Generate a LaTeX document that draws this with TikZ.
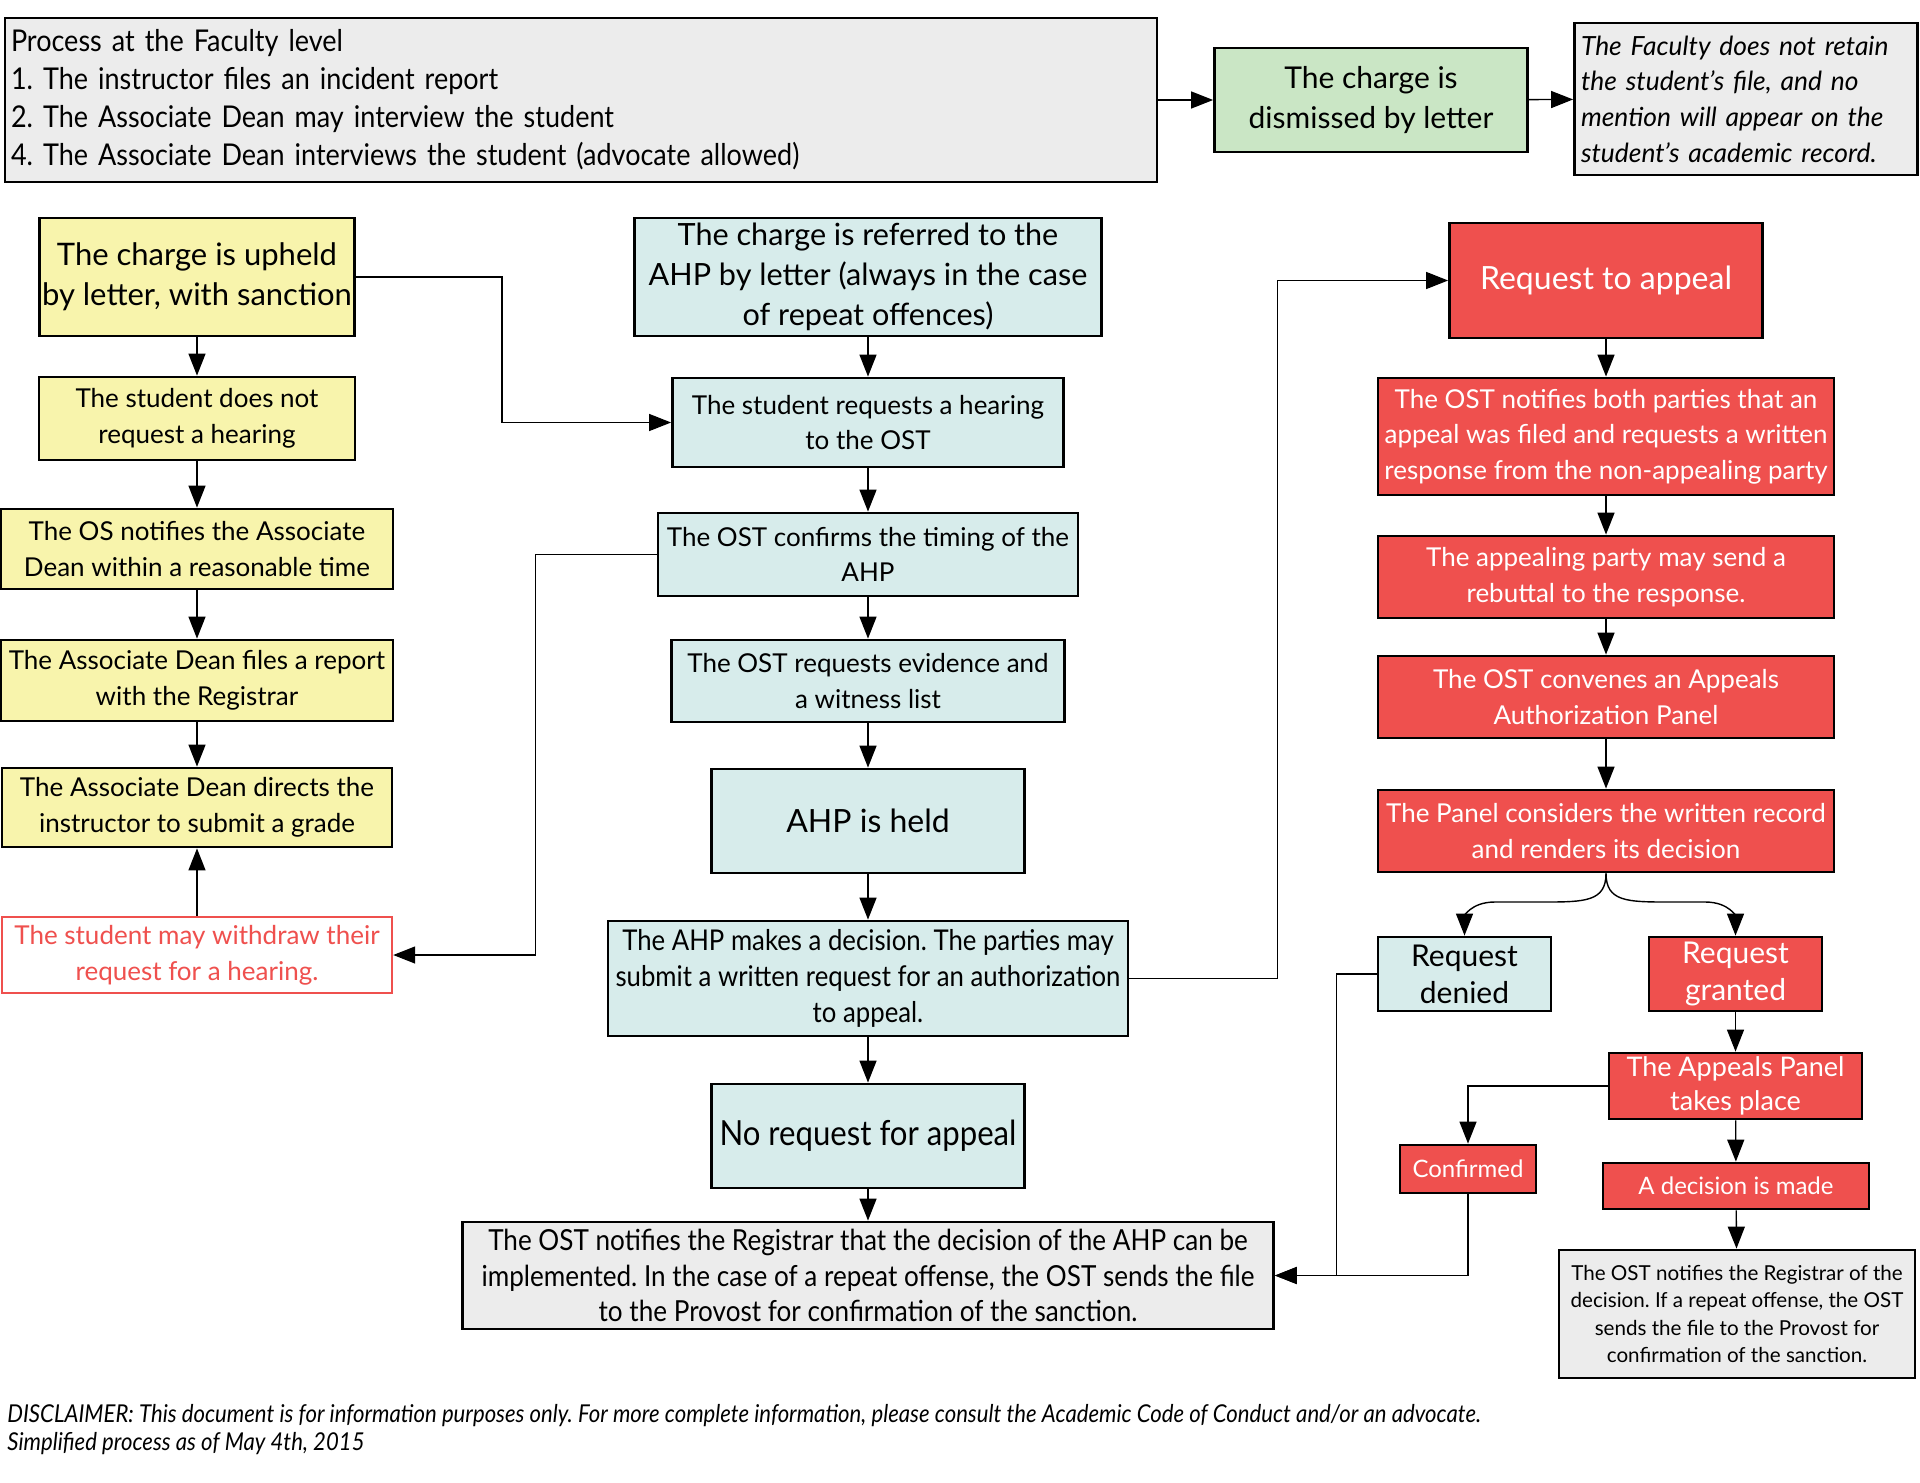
\documentclass[tikz,border=0pt]{standalone}
\usepackage{fontspec}
\setmainfont{Lato}
\newfontfamily\narrowfont[FakeStretch=0.9]{Lato}
\usetikzlibrary{arrows.meta}
\frenchspacing

\definecolor{yel}{HTML}{F8F4AC}
\definecolor{cya}{HTML}{D7ECEB}
\definecolor{redd}{HTML}{EF504E}
\definecolor{grn}{HTML}{CAE6C5}
\definecolor{gry}{HTML}{ECECEC}

\newcommand{\fsz}[2]{\fontsize{#1}{#2}\selectfont}

\tikzset{
  box/.style={draw, line width=1.4pt, align=center, inner sep=1pt},
  ybox/.style={box, fill=yel, font=\fsz{13}{17.8}},
  cbox/.style={box, fill=cya, font=\fsz{13}{17.8}},
  rbox/.style={box, fill=redd, text=white, font=\fsz{13}{17.8}},
  gbox/.style={box, fill=gry},
  wbox/.style={box, draw=redd, line width=1.2pt, fill=white, text=redd, font=\fsz{13}{17.8}},
  arr/.style={-{Triangle[length=11pt,width=8.5pt]}, line width=0.7pt},
}

\begin{document}
\begin{tikzpicture}[x=0.5pt,y=-0.5pt]
\useasboundingbox (0,0) rectangle (1920,1482);
%\draw[help lines] (0,0) grid[step=100] (1920,1482);

% top row
\node[gbox, minimum width=576pt, minimum height=82pt, text width=570pt, inner xsep=3pt, align=left, font=\narrowfont\fsz{15}{19}] (faculty) at (581,100)
  {Process at the Faculty level\\1. The instructor files an incident report\\2. The Associate Dean may interview the student\\4. The Associate Dean interviews the student (advocate allowed)};
\node[box, fill=grn, minimum width=156.5pt, minimum height=52pt, font=\fsz{15}{20}] (dismissed) at (1371,100) {The charge is\\dismissed by letter};
\node[gbox, minimum width=171.5pt, minimum height=76pt, text width=165pt, inner xsep=3pt, align=left, font=\itshape\fsz{13.2}{17.8}] (record) at (1746,99)
  {The Faculty does not retain\\the student's file, and no\\mention will appear on the\\student's academic record.};

% left column
\node[ybox, minimum width=157.5pt, minimum height=59pt, font=\fsz{15.5}{20}] (upheld) at (197,277) {The charge is upheld\\by letter, with sanction};
\node[ybox, minimum width=158pt, minimum height=41.5pt] (nohearing) at (197,418.5) {The student does not\\request a hearing};
\node[ybox, minimum width=196pt, minimum height=40pt] (osnotify) at (197,549) {The OS notifies the Associate\\Dean within a reasonable time};
\node[ybox, minimum width=196pt, minimum height=40.5pt] (adfiles) at (197,680.5) {The Associate Dean files a report\\with the Registrar};
\node[ybox, minimum width=195pt, minimum height=39.5pt] (addirects) at (197,807.5) {The Associate Dean directs the\\instructor to submit a grade};
\node[wbox, minimum width=195pt, minimum height=38pt] (withdraw) at (197,955) {The student may withdraw their\\request for a hearing.};

% middle column
\node[cbox, minimum width=233.5pt, minimum height=59pt, font=\fsz{15.3}{20}] (referred) at (868,277) {The charge is referred to the\\AHP by letter (always in the case\\of repeat offences)};
\node[cbox, minimum width=195.5pt, minimum height=44.5pt] (reqhearing) at (868,422.5) {The student requests a hearing\\to the OST};
\node[cbox, minimum width=210pt, minimum height=41.5pt] (timing) at (868,554.5) {The OST confirms the timing of the\\AHP};
\node[cbox, minimum width=196.5pt, minimum height=41pt] (evidence) at (868,681) {The OST requests evidence and\\a witness list};
\node[cbox, minimum width=156.5pt, minimum height=52pt, font=\fsz{16}{20}] (held) at (868,821) {AHP is held};
\node[cbox, minimum width=260pt, minimum height=57.5pt, font=\narrowfont\fsz{14.3}{17.8}] (ahpdecision) at (868,978.5) {The AHP makes a decision. The parties may\\submit a written request for an authorization\\to appeal.};
\node[cbox, minimum width=156.5pt, minimum height=52pt, font=\narrowfont\fsz{17.3}{20}] (noappeal) at (868,1136) {No request for appeal};
\node[gbox, minimum width=405.5pt, minimum height=53.5pt, font=\narrowfont\fsz{14.5}{17.8}] (registrar) at (868,1275.5) {The OST notifies the Registrar that the decision of the AHP can be\\implemented. In the case of a repeat offense, the OST sends the file\\to the Provost for confirmation of the sanction.};

% right column
\node[rbox, minimum width=156.5pt, minimum height=57.5pt, font=\fsz{16}{20}] (appeal) at (1606,280.5) {Request to appeal};
\node[rbox, minimum width=228pt, minimum height=58.5pt] (bothparties) at (1606,436.5) {The OST notifies both parties that an\\appeal was filed and requests a written\\response from the non-appealing party};
\node[rbox, minimum width=228pt, minimum height=41pt] (rebuttal) at (1606,577) {The appealing party may send a\\rebuttal to the response.};
\node[rbox, minimum width=228pt, minimum height=41pt] (convenes) at (1606,697) {The OST convenes an Appeals\\Authorization Panel};
\node[rbox, minimum width=228pt, minimum height=41pt] (considers) at (1606,831) {The Panel considers the written record\\and renders its decision};
\node[cbox, minimum width=86.5pt, minimum height=37pt, font=\fsz{15}{18.4}] (denied) at (1464.5,974) {Request\\denied};
\node[rbox, minimum width=86.5pt, minimum height=37pt, font=\fsz{15}{18.4}] (granted) at (1735.5,974) {Request\\granted};
\node[rbox, minimum width=126.5pt, minimum height=33pt, font=\fsz{13.5}{17}] (panel) at (1735.5,1086) {The Appeals Panel\\takes place};
\node[rbox, minimum width=68pt, minimum height=24pt, font=\fsz{12}{14}] (confirmed) at (1468,1169) {Confirmed};
\node[rbox, minimum width=133pt, minimum height=23pt, font=\fsz{12}{14}] (made) at (1736,1186) {A decision is made};
\node[gbox, minimum width=178pt, minimum height=64pt, font=\fsz{10.3}{13.8}] (provost) at (1737,1314) {The OST notifies the Registrar of the\\decision. If a repeat offense, the OST\\sends the file to the Provost for\\confirmation of the sanction.};

\node[anchor=north west, align=left, inner sep=0pt, font=\narrowfont\itshape\fsz{12.3}{14}] (disclaimer) at (7,1404)
  {DISCLAIMER: This document is for information purposes only. For more complete information, please consult the Academic Code of Conduct and/or an advocate.\\Simplified process as of May 4th, 2015};

% connectors
\draw[arr] (faculty) -- (dismissed);
\draw[arr] (dismissed) -- (record);

\draw[arr] (upheld) -- (nohearing);
\draw[arr] (nohearing) -- (osnotify);
\draw[arr] (osnotify) -- (adfiles);
\draw[arr] (adfiles) -- (addirects);
\draw[arr] (withdraw) -- (addirects);
\draw[arr] (upheld.east) -- ++(146,0) |- (reqhearing.west);
\draw[arr] (timing.west) -- ++(-121,0) |- (withdraw.east);

\draw[arr] (referred) -- (reqhearing);
\draw[arr] (reqhearing) -- (timing);
\draw[arr] (timing) -- (evidence);
\draw[arr] (evidence) -- (held);
\draw[arr] (held) -- (ahpdecision);
\draw[arr] (ahpdecision) -- (noappeal);
\draw[arr] (noappeal) -- (registrar);
\draw[arr] (ahpdecision.east) -- ++(148,0) |- (appeal.west);

\draw[arr] (appeal) -- (bothparties);
\draw[arr] (bothparties) -- (rebuttal);
\draw[arr] (rebuttal) -- (convenes);
\draw[arr] (convenes) -- (considers);
\draw[arr] (considers.south) .. controls +(0,28) and +(40,0) .. (1545,902) -- (1495,902) .. controls +(-25,0) and +(0,-18) .. (denied.north);
\draw[arr] (considers.south) .. controls +(0,28) and +(-40,0) .. (1667,902) -- (1705,902) .. controls +(25,0) and +(0,-18) .. (granted.north);
\draw[arr] (granted) -- (panel);
\draw[arr] (panel) -- (made);
\draw[arr] (made) -- (provost);
\draw[arr] (panel.west) -| (confirmed.north);
\draw[arr] (denied.west) -- ++(-40,0) |- (registrar.east);
\draw[arr] (confirmed.south) |- (registrar.east);
\end{tikzpicture}
\end{document}
